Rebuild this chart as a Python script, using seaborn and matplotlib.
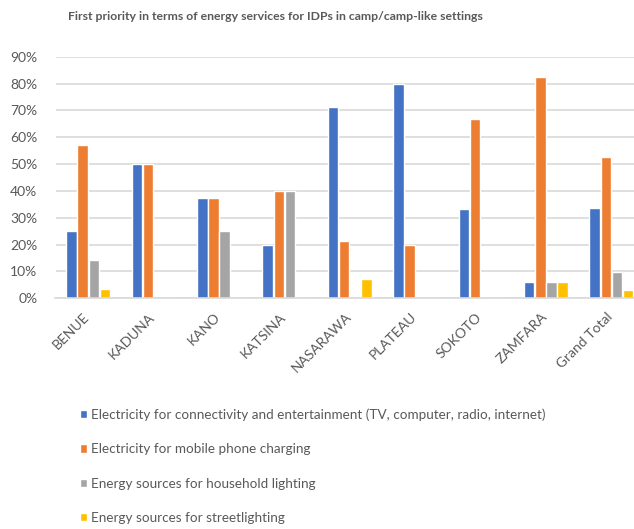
import matplotlib
matplotlib.use("Agg")
import matplotlib.pyplot as plt
import matplotlib.transforms as mtransforms
import seaborn as sns
import pandas as pd
from matplotlib.ticker import PercentFormatter

states = ["BENUE", "KADUNA", "KANO", "KATSINA", "NASARAWA", "PLATEAU",
          "SOKOTO", "ZAMFARA", "Grand Total"]
series_names = [
    "Electricity for connectivity and entertainment (TV, computer, radio, internet)",
    "Electricity for mobile phone charging",
    "Energy sources for household lighting",
    "Energy sources for streetlighting",
]
connectivity = [25.0, 50.0, 37.5, 20.0, 71.4, 80.0, 33.3, 5.9, 33.8]
phone_charging = [57.1, 50.0, 37.5, 40.0, 21.4, 20.0, 66.7, 82.4, 52.5]
household_lighting = [14.3, 0.0, 25.0, 40.0, 0.0, 0.0, 0.0, 5.9, 9.7]
streetlighting = [3.6, 0.0, 0.0, 0.0, 7.1, 0.0, 0.0, 5.9, 3.2]
colors = ["#4472C4", "#ED7D31", "#A5A5A5", "#FFC000"]

rows = []
for name, vals in zip(series_names, [connectivity, phone_charging,
                                     household_lighting, streetlighting]):
    for st, v in zip(states, vals):
        rows.append({"state": st, "series": name, "value": v / 100})
df = pd.DataFrame(rows)

sns.set_style("white")
plt.rcParams["font.family"] = ["Lato", "DejaVu Sans"]
text_color = "#595959"

W, H = 634, 529
fig = plt.figure(figsize=(W / 100, H / 100), dpi=100)
left, right = 55.5, 644.0
bottom, top = 298.3, 56.7
ax = fig.add_axes([left / W, 1 - bottom / H, (right - left) / W, (bottom - top) / H])

sns.barplot(data=df, x="state", y="value", hue="series", order=states,
            hue_order=series_names, palette=colors, width=0.68, gap=0.06,
            saturation=1, ax=ax, legend=True)

ax.set_ylim(0, 0.9)
ax.set_xlim(-0.5, len(states) - 0.5)
ax.set_yticks([i / 10 for i in range(10)])
ax.yaxis.set_major_formatter(PercentFormatter(1.0, decimals=0))
ax.yaxis.grid(True, color="#D9D9D9", linewidth=1.2)
ax.set_axisbelow(True)
for s in ["left", "right", "top"]:
    ax.spines[s].set_visible(False)
ax.spines["bottom"].set_color("#D9D9D9")
ax.spines["bottom"].set_linewidth(1.2)
ax.set_xlabel("")
ax.set_ylabel("")
ax.tick_params(axis="both", length=0, colors=text_color, labelsize=10)
ax.tick_params(axis="y", pad=13)
ax.tick_params(axis="x", pad=9)
shift = mtransforms.ScaledTranslation(-5 / 100, 0, fig.dpi_scale_trans)
for lab in ax.get_xticklabels():
    lab.set_rotation(45)
    lab.set_ha("right")
    lab.set_rotation_mode("anchor")
    lab.set_transform(lab.get_transform() + shift)

handles, labels = ax.get_legend_handles_labels()
ax.get_legend().remove()
fig.legend(handles, labels, loc="upper left",
           bbox_to_anchor=(80 / W, 1 - 408.5 / H), frameon=False,
           fontsize=9.7, labelcolor=text_color, handlelength=0.55,
           handleheight=0.55, handletextpad=0.3, labelspacing=1.65,
           borderaxespad=0, borderpad=0)

fig.text(275 / W, 1 - 16 / H,
         "First priority in terms of energy services for IDPs in camp/camp-like settings",
         ha="center", va="center", fontsize=8.8, fontweight="bold", color=text_color)

fig.savefig("out.png", dpi=100)
